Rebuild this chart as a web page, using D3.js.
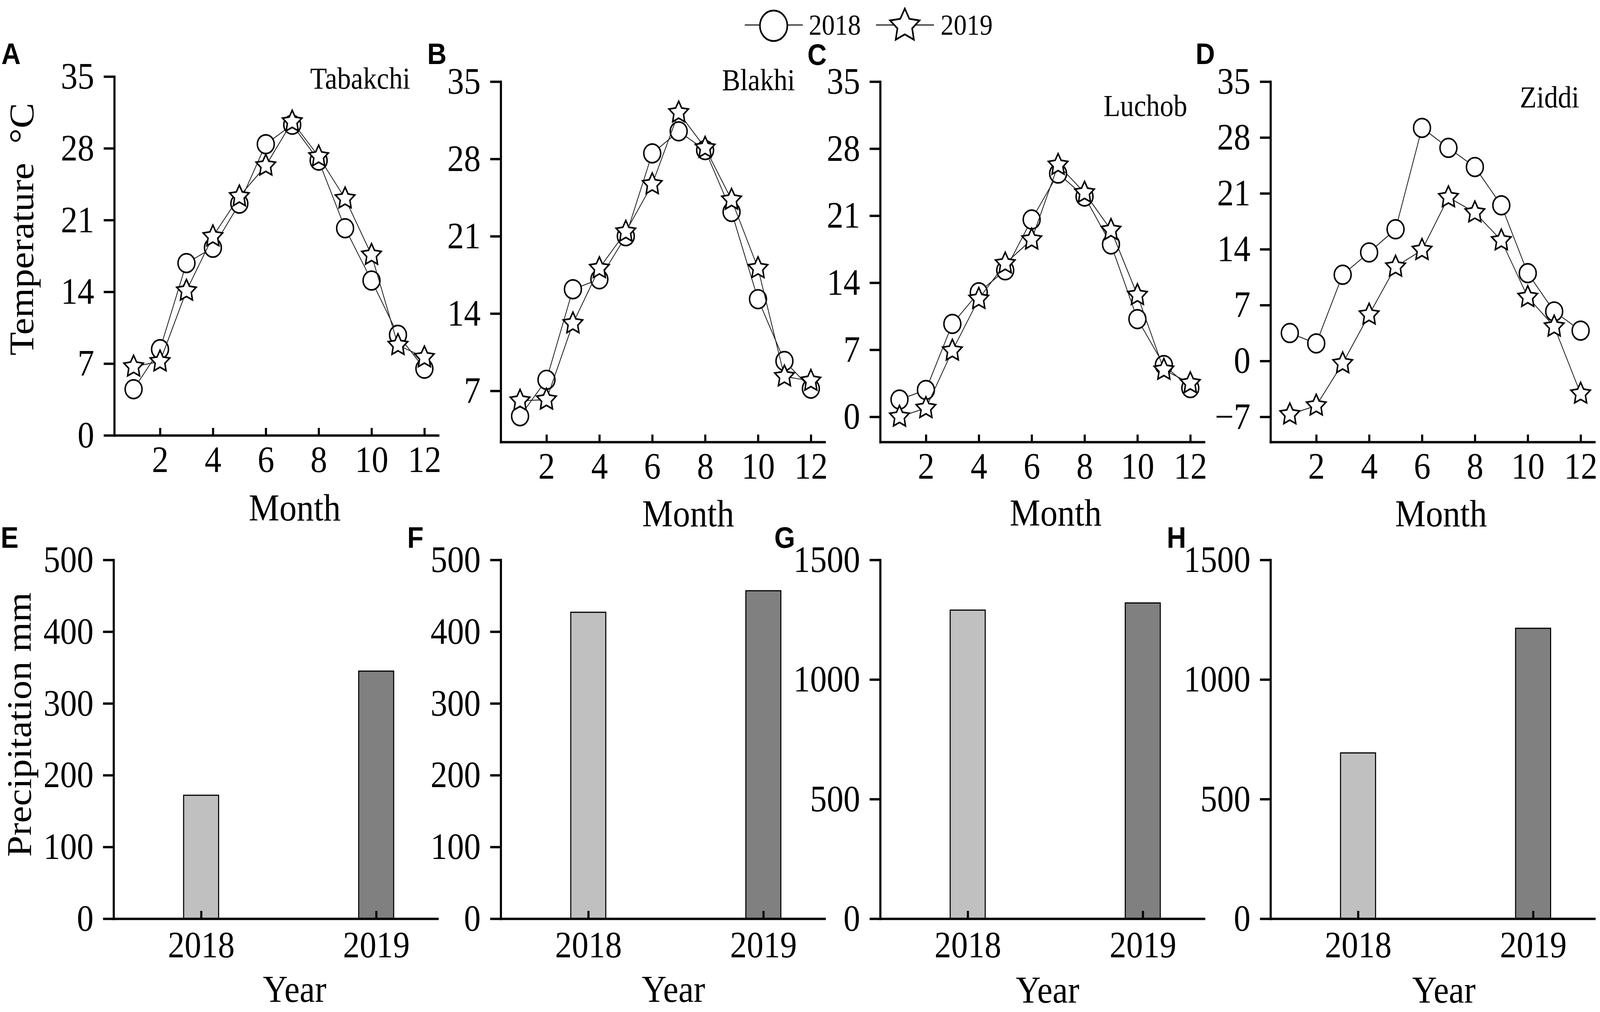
<!DOCTYPE html>
<html>
<head>
<meta charset="utf-8">
<script src="https://cdn.jsdelivr.net/npm/d3@7"></script>
<style>
  html, body { margin: 0; padding: 0; background: #fff; overflow: hidden; width: 100%; height: 100%; }
  svg { display: block; width: 100vw; height: 100vh; }
  text { font-family: "Liberation Serif", "Times New Roman", serif; fill: #000; }
</style>
</head>
<body>
<script>
// ---------------- DATA ----------------
const months = [1, 2, 3, 4, 5, 6, 7, 8, 9, 10, 11, 12];
const monthTicks = [2, 4, 6, 8, 10, 12];
const seriesNames = ["2018", "2019"];
const sites = ["Tabakchi", "Blakhi", "Luchob", "Ziddi"];

const tabakchi2018 = [4.5, 8.4, 16.8, 18.3, 22.6, 28.4, 30.3, 26.8, 20.2, 15.1, 9.8, 6.5];
const tabakchi2019 = [6.7, 7.2, 14.1, 19.4, 23.3, 26.3, 30.6, 27.2, 23.1, 17.6, 8.8, 7.6];
const blakhi2018   = [4.7, 8.0, 16.2, 17.1, 21.0, 28.5, 30.5, 28.8, 23.2, 15.3, 9.7, 7.2];
const blakhi2019   = [6.1, 6.2, 13.1, 18.1, 21.4, 25.7, 32.2, 29.0, 24.3, 18.1, 8.3, 7.9];
const luchob2018   = [1.8, 2.8, 9.7, 13.0, 15.3, 20.6, 25.4, 23.0, 18.0, 10.2, 5.4, 3.0];
const luchob2019   = [0.0, 0.9, 6.9, 12.3, 16.0, 18.5, 26.3, 23.4, 19.5, 12.7, 4.9, 3.5];
const ziddi2018    = [3.5, 2.2, 10.8, 13.6, 16.5, 29.2, 26.7, 24.3, 19.5, 11.0, 6.2, 3.8];
const ziddi2019    = [-6.7, -5.6, -0.3, 5.8, 11.8, 13.9, 20.5, 18.6, 15.1, 8.0, 4.3, -4.1];

const tempTicksA = [0, 7, 14, 21, 28, 35];
const tempTicksB = [7, 14, 21, 28, 35];
const tempTicksC = [0, 7, 14, 21, 28, 35];
const tempTicksD = [-7, 0, 7, 14, 21, 28, 35];

const years = [2018, 2019];
const precipTabakchi = [172, 345];
const precipBlakhi   = [427, 457];
const precipLuchob   = [1290, 1320];
const precipZiddi    = [693, 1214];
const precipTicksSmall = [0, 100, 200, 300, 400, 500];
const precipTicksLarge = [0, 500, 1000, 1500];
const barColors = ["#c0c0c0", "#808080"];

// ---------------- LAYOUT ----------------
const W = 4550, H = 2592;
const SERIF = "'Liberation Serif', 'Times New Roman', serif";
const svg = d3.select("body").append("svg")
  .attr("viewBox", `0 0 ${W} ${H}`)
  .attr("preserveAspectRatio", "none");
svg.append("rect").attr("width", W).attr("height", H).attr("fill", "#fff");

const tempPanels = [
  { letter: "A", site: sites[0], s18: tabakchi2018, s19: tabakchi2019, ticks: tempTicksA, dom: [0, 35],
    x0: 325, yTop: 196, yBot: 1115, lx: 4, ly: 164, sx: 882, sy: 227, mx: 838, my: 1333 },
  { letter: "B", site: sites[1], s18: blakhi2018, s19: blakhi2019, ticks: tempTicksB, dom: [2.37, 35],
    x0: 1424, yTop: 209, yBot: 1132, lx: 1215, ly: 164, sx: 2053, sy: 231, mx: 1957, my: 1348 },
  { letter: "C", site: sites[2], s18: luchob2018, s19: luchob2019, ticks: tempTicksC, dom: [-2.63, 35],
    x0: 2503, yTop: 209, yBot: 1132, lx: 2296, ly: 166, sx: 3138, sy: 297, mx: 3002, my: 1346 },
  { letter: "D", site: sites[3], s18: ziddi2018, s19: ziddi2019, ticks: tempTicksD, dom: [-10.15, 35],
    x0: 3613, yTop: 209, yBot: 1132, lx: 3400, ly: 164, sx: 4322, sy: 275, mx: 4098, my: 1348 }
];

const barPanels = [
  { letter: "E", vals: precipTabakchi, ticks: precipTicksSmall, max: 500, x0: 323, lx: 2, yx: 838, yy: 2566 },
  { letter: "F", vals: precipBlakhi, ticks: precipTicksSmall, max: 500, x0: 1424, lx: 1158, yx: 1915, yy: 2566 },
  { letter: "G", vals: precipLuchob, ticks: precipTicksLarge, max: 1500, x0: 2503, lx: 2202, yx: 2979, yy: 2568 },
  { letter: "H", vals: precipZiddi, ticks: precipTicksLarge, max: 1500, x0: 3613, lx: 3318, yx: 4106, yy: 2568 }
];

const PW = 921;
const tickFont = 95, titleFont = 98, siteFont = 78, letterFont = 76, legendFont = 74;
const axisW = 6;

function styleAxis(g) {
  g.attr("font-family", null).attr("font-size", null);
  g.select(".domain").attr("stroke", "#000").attr("stroke-width", axisW).attr("stroke-linecap", "square");
  g.selectAll(".tick line").attr("stroke", "#000").attr("stroke-width", axisW);
  g.selectAll(".tick text")
    .style("font-family", SERIF).style("font-size", tickFont + "px").attr("fill", "#000");
}

function serifText(sel, size) {
  return sel.style("font-family", SERIF).style("font-size", size + "px");
}

function panelLetter(x, y, t) {
  svg.append("text").attr("x", x).attr("y", y).text(t)
    .style("font-family", "'Liberation Sans', Arial, sans-serif")
    .style("font-weight", "bold").style("font-size", letterFont + "px");
}

// Origin-like five-pointed star (fatter than d3.symbolStar); size = outer radius squared
const fatStar = {
  draw(ctx, size) {
    const R = Math.sqrt(size), r = R * 0.5;
    for (let i = 0; i < 10; i++) {
      const a = -Math.PI / 2 + i * Math.PI / 5;
      const rad = i % 2 ? r : R;
      const px = rad * Math.cos(a), py = rad * Math.sin(a);
      if (i === 0) ctx.moveTo(px, py); else ctx.lineTo(px, py);
    }
    ctx.closePath();
  }
};

const circleSym = d3.symbol().type(d3.symbolCircle).size(Math.PI * 24 * 24);
const starSym = d3.symbol().type(fatStar).size(29 * 29);

// ---------------- TEMPERATURE PANELS ----------------
tempPanels.forEach(p => {
  const x = d3.scaleLinear().domain([0.27, 12.52]).range([p.x0, p.x0 + PW]);
  const y = d3.scaleLinear().domain(p.dom).range([p.yBot, p.yTop]);
  const g = svg.append("g");

  const line = d3.line().x((d, i) => x(months[i])).y(d => y(d));

  [[p.s18, circleSym], [p.s19, starSym]].forEach(([vals, sym]) => {
    g.append("path").datum(vals).attr("d", line)
      .attr("fill", "none").attr("stroke", "#1a1a1a").attr("stroke-width", 2.2);
    g.selectAll(null).data(vals).enter().append("path")
      .attr("d", sym)
      .attr("transform", (d, i) => `translate(${x(months[i])},${y(d)})`)
      .attr("fill", "#fff").attr("stroke", "#000").attr("stroke-width", 4.2)
      .attr("stroke-linejoin", "miter");
  });

  const ya = g.append("g").attr("transform", `translate(${p.x0},0)`)
    .call(d3.axisLeft(y).tickValues(p.ticks).tickSizeInner(30).tickSizeOuter(0).tickPadding(27).tickFormat(d3.format("d")));
  styleAxis(ya);
  const xa = g.append("g").attr("transform", `translate(0,${p.yBot})`)
    .call(d3.axisBottom(x).tickValues(monthTicks).tickSizeInner(-19).tickSizeOuter(0).tickPadding(27).tickFormat(d3.format("d")));
  styleAxis(xa);

  serifText(svg.append("text").attr("x", p.sx).attr("y", p.sy), siteFont).text(p.site);
  serifText(svg.append("text").attr("x", p.mx).attr("y", p.my).attr("text-anchor", "middle"), titleFont).text("Month");
  panelLetter(p.lx, p.ly, p.letter);
});

serifText(svg.append("text").attr("transform", "translate(94,587) rotate(-90)")
  .attr("text-anchor", "middle"), titleFont)
  .style("white-space", "pre").text("Temperature  \u00B0C");

// ---------------- PRECIPITATION PANELS ----------------
const yTopB = 1434, yBotB = 2353;
barPanels.forEach(p => {
  const x = d3.scaleLinear().domain([2017.5, 2019.35]).range([p.x0, p.x0 + PW]);
  const y = d3.scaleLinear().domain([0, p.max]).range([yBotB, yTopB]);
  const g = svg.append("g");
  const bw = x(2018.1) - x(2017.9);

  g.selectAll(null).data(p.vals).enter().append("rect")
    .attr("x", (d, i) => x(years[i]) - bw / 2)
    .attr("y", d => y(d))
    .attr("width", bw)
    .attr("height", d => y(0) - y(d))
    .attr("fill", (d, i) => barColors[i])
    .attr("stroke", "#000").attr("stroke-width", 3);

  const ya = g.append("g").attr("transform", `translate(${p.x0},0)`)
    .call(d3.axisLeft(y).tickValues(p.ticks).tickSizeInner(30).tickSizeOuter(0).tickPadding(27).tickFormat(d3.format("d")));
  styleAxis(ya);
  const xa = g.append("g").attr("transform", `translate(0,${yBotB})`)
    .call(d3.axisBottom(x).tickValues(years).tickSizeInner(-20).tickSizeOuter(0).tickPadding(32).tickFormat(d3.format("d")));
  styleAxis(xa);

  serifText(svg.append("text").attr("x", p.yx).attr("y", p.yy).attr("text-anchor", "middle"), titleFont).text("Year");
  panelLetter(p.lx, 1403, p.letter);
});

serifText(svg.append("text").attr("transform", "translate(88,1856) rotate(-90)")
  .attr("text-anchor", "middle"), titleFont).text("Precipitation mm");

// ---------------- LEGEND ----------------
const legendItems = [
  { name: seriesNames[0], sym: d3.symbol().type(d3.symbolCircle).size(Math.PI * 39 * 39), x1: 2118, x2: 2283, cx: 2200, tx: 2300 },
  { name: seriesNames[1], sym: d3.symbol().type(fatStar).size(44 * 44), x1: 2491, x2: 2656, cx: 2573, tx: 2675 }
];
const lg = svg.append("g");
legendItems.forEach(it => {
  lg.append("line").attr("x1", it.x1).attr("x2", it.x2).attr("y1", 64).attr("y2", 64)
    .attr("stroke", "#000").attr("stroke-width", 2.5);
  lg.append("path").attr("d", it.sym).attr("transform", `translate(${it.cx},66)`)
    .attr("fill", "#fff").attr("stroke", "#000").attr("stroke-width", 4.5);
  serifText(lg.append("text").attr("x", it.tx).attr("y", 89), legendFont).text(it.name);
});
</script>
</body>
</html>
